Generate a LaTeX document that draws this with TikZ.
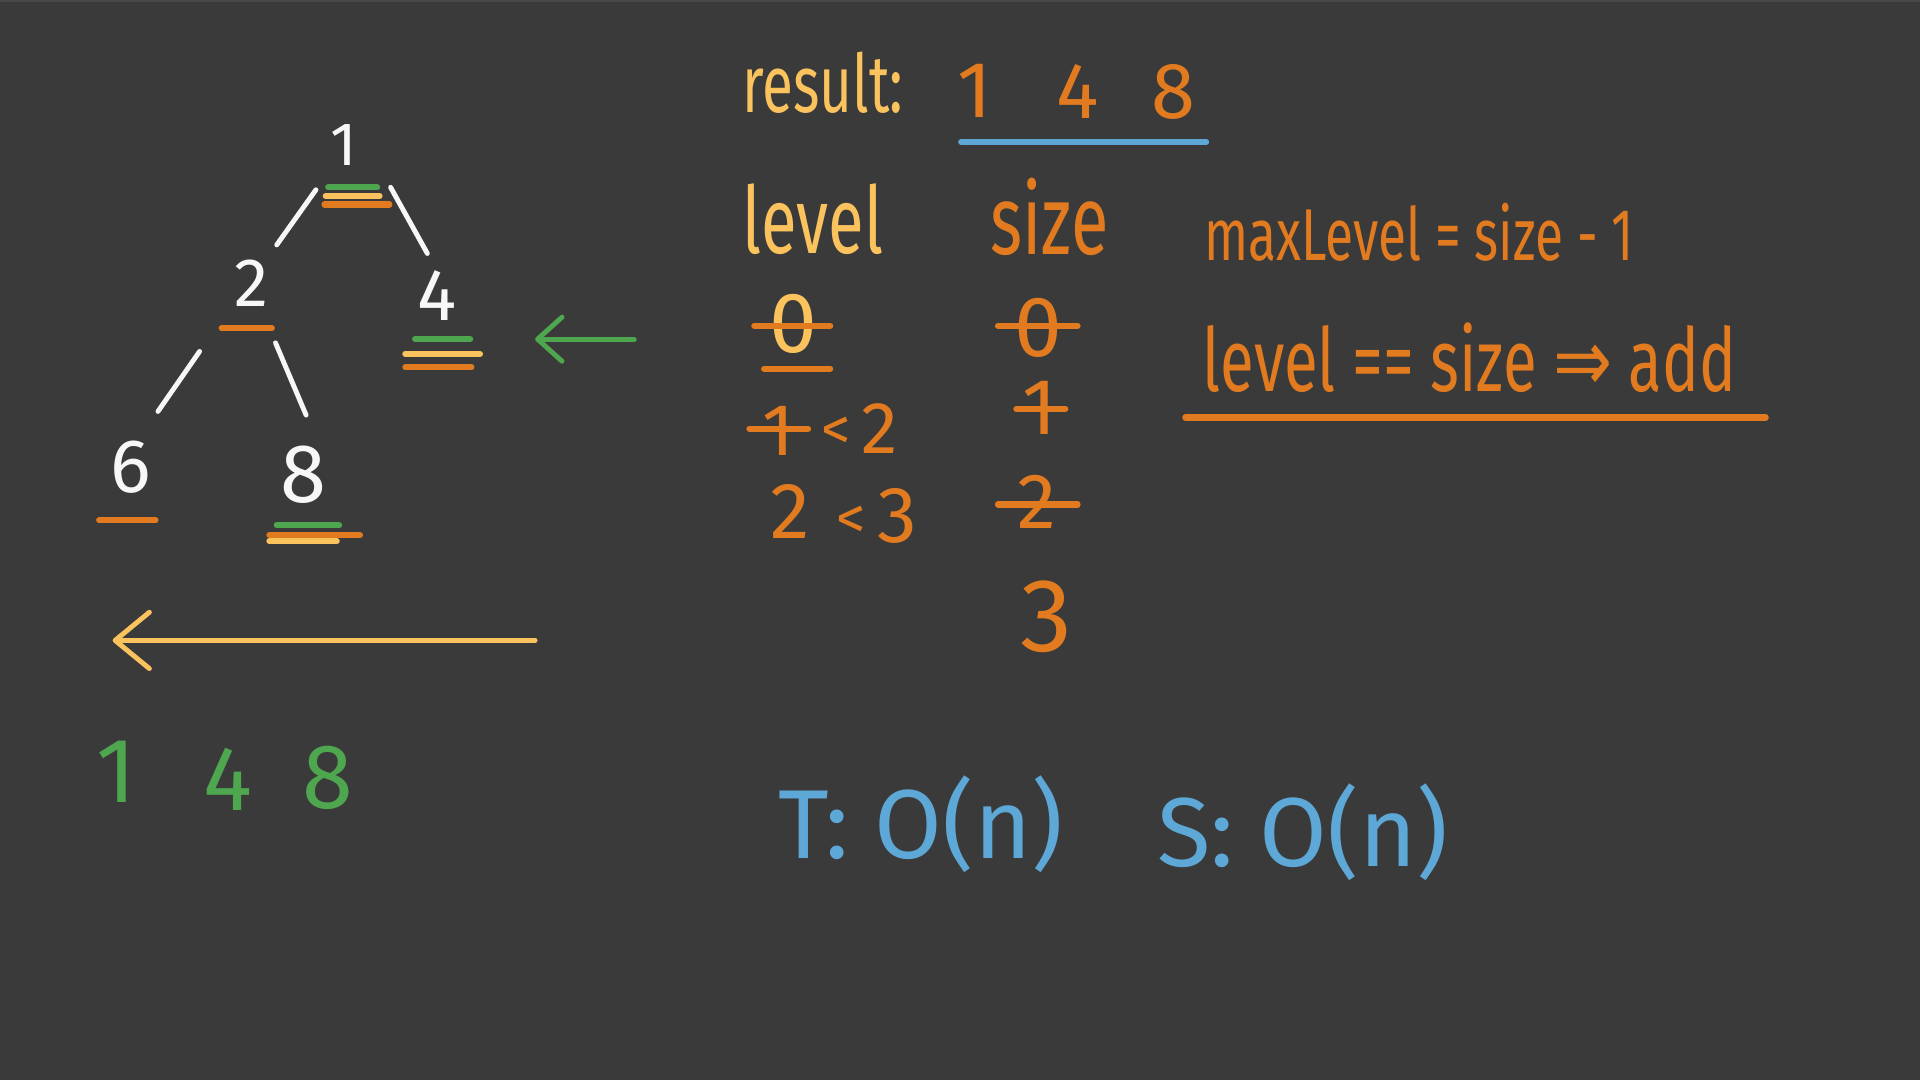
\documentclass[tikz,border=0pt]{standalone}
\usepackage{fontspec}
\usetikzlibrary{arrows.meta,calc}
\newfontfamily\wordfont[FakeStretch=0.7]{Fira Sans}
\newfontfamily\numfont{Fira Sans}
\newfontfamily\arrowfont[FakeStretch=0.8]{DejaVu Sans}
\definecolor{board}{HTML}{3A3A3A}
\definecolor{boardtop}{HTML}{484848}
\definecolor{chalk}{HTML}{F7F7F7}
\definecolor{penorange}{HTML}{E27B1F}
\definecolor{penyellow}{HTML}{FBC35D}
\definecolor{pengreen}{HTML}{4EA64E}
\definecolor{penblue}{HTML}{5DA8D6}

\begin{document}
\begin{tikzpicture}[
    x=1pt, y=-1pt,
    word/.style={font=\wordfont\fontsize{#1}{#1}\selectfont, inner sep=0pt, anchor=base},
    num/.style={font=\numfont\fontsize{#1}{#1}\selectfont, inner sep=0pt, anchor=base},
    tick/.style={line width=5pt, line cap=round},
    branch/.style={draw=chalk, line width=4pt, line cap=round},
    arr/.style={line width=4pt, line cap=round},
  ]
  % Board
  \fill[board] (0,0) rectangle (1568,882);
  \fill[boardtop] (0,0) rectangle (1568,2);

  % Tree
  \node[num=50, text=chalk] (n1) at (281,135) {1};
  \node[num=56, text=chalk] (n2) at (205,250) {2};
  \node[num=60, text=chalk] (n4) at (357,262) {4};
  \node[num=62, text=chalk] (n6) at (107,402) {6};
  \node[num=68, text=chalk] (n8) at (248,410) {8};

  \draw[branch] ($(n1.base)+(-23,20)$) -- ($(n2.base)+(21,-50)$);
  \draw[branch] ($(n1.base)+(38,18)$) -- ($(n4.base)+(-8,-55)$);
  \draw[branch] ($(n2.base)+(-42,37)$) -- ($(n6.base)+(22,-66)$);
  \draw[branch] ($(n2.base)+(20,30)$) -- ($(n8.base)+(2,-71)$);

  % Visit marks
  \draw[tick, pengreen] (268,153) -- (308,153);
  \draw[tick, penyellow] (266,160) -- (310,160);
  \draw[tick, penorange] (265,167) -- (318,167);
  \draw[tick, penorange] (181,268) -- (222,268);
  \draw[tick, pengreen] (339,277) -- (384,277);
  \draw[tick, penyellow] (331,289) -- (392,289);
  \draw[tick, penorange] (331,300) -- (385,300);
  \draw[tick, penorange] (81,425) -- (127,425);
  \draw[tick, pengreen] (226,429) -- (277,429);
  \draw[tick, penorange] (220,437) -- (294,437);
  \draw[tick, penyellow] (220,442) -- (275,442);

  % Arrows
  \coordinate (gtail) at (518,277);
  \coordinate (gtip) at (437,277);
  \draw[arr, pengreen, -{Straight Barb[length=20pt, width=36pt, round]}] (gtail) -- (gtip);
  \coordinate (ytail) at (437,523);
  \coordinate (ytip) at (92,523);
  \draw[arr, penyellow, -{Straight Barb[length=28pt, width=46pt, round]}] (ytail) -- (ytip);

  % Right view
  \node[num=75, text=pengreen] (g1) at (95,655) {1};
  \node[num=75, text=pengreen] (g4) at (186,662) {4};
  \node[num=75, text=pengreen] (g8) at (268,660) {8};

  % Result
  \node[word=66, text=penyellow] (result) at (672,92) {result:};
  \node[num=65, text=penorange] (r1) at (796,96) {1};
  \node[num=65, text=penorange] (r4) at (880,97) {4};
  \node[num=65, text=penorange] (r8) at (958,97) {8};
  \draw[tick, penblue] (785,116) -- (985,116);

  % Table
  \node[word=76, text=penyellow] (level) at (664,207) {level};
  \node[word=80, text=penorange] (size) at (857,208) {size};
  \node[word=60, text=penorange] (maxlevel) at (1159,213) {maxLevel = size - 1};

  \node[num=70, text=penyellow] (lv0) at (648,288) {0};
  \draw[tick, penorange] (616,266) -- (678,266);
  \draw[tick, penorange] (624,301) -- (678,301);
  \node[num=70, text=penorange] (sz0) at (848,291) {0};
  \draw[tick, penorange] (815,266) -- (880,266);

  \node[num=60, text=penorange] (lv1) at (636,372) {1};
  \draw[tick, penorange] (612,350) -- (660,350);
  \node[num=48, text=penorange] (lt1) at (683,367) {<};
  \node[num=60, text=penorange] (lv2) at (718,370) {2};
  \node[num=65, text=penorange] (sz1) at (849,355) {1};
  \draw[tick, penorange] (830,334) -- (870,334);

  \node[num=65, text=penorange] (lv2b) at (645,440) {2};
  \node[num=48, text=penorange] (lt2) at (695,440) {<};
  \node[num=65, text=penorange] (lv3) at (733,443) {3};
  \node[num=64, text=penorange] (sz2) at (847,432) {2};
  \draw[tick, penorange] (815,412) -- (880,412);
  \node[num=85, text=penorange] (sz3) at (855,532) {3};

  % Rule
  \node[word=72, text=penorange] (rule) at (1200,320) {level == size {\arrowfont ⇒} add};
  \draw[tick, penorange] (968,341) -- (1442,341);

  % Complexity
  \node[num=80, text=penblue] (time) at (752,701) {T: O(n)};
  \node[num=80, text=penblue] (space) at (1064,708) {S: O(n)};
\end{tikzpicture}
\end{document}
